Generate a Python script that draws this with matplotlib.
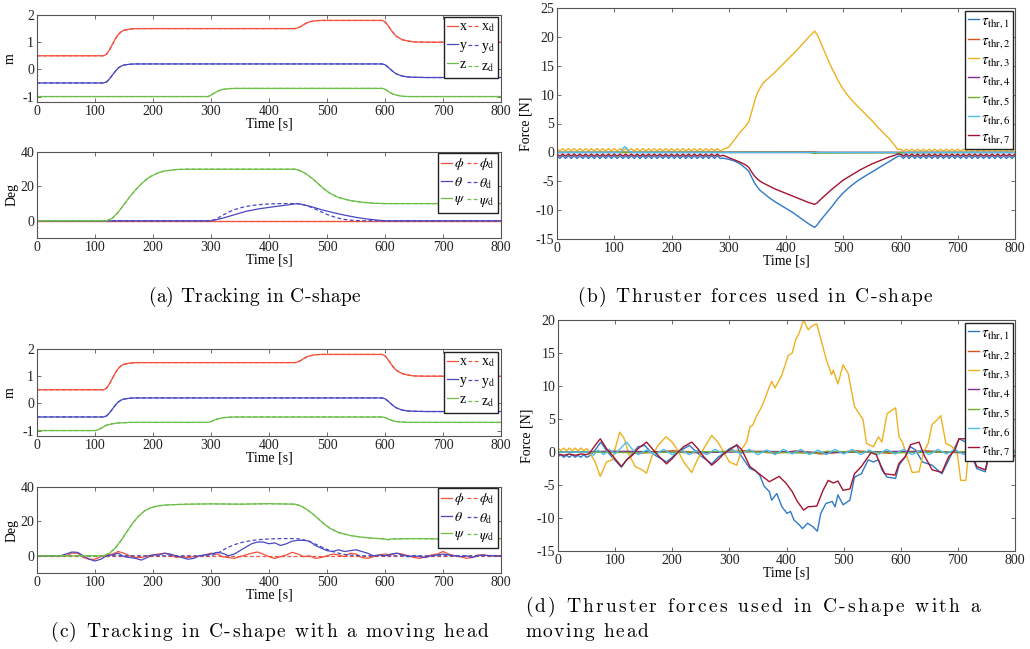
import numpy as np
import matplotlib.pyplot as plt
from matplotlib import font_manager
from matplotlib.ft2font import FT2Font

plt.rcParams['font.family'] = ['Liberation Serif', 'DejaVu Serif']
plt.rcParams['mathtext.fontset'] = 'stix'
plt.rcParams['axes.unicode_minus'] = False

W, H = 1030, 649

# ---------------- (a) tracking in C-shape ----------------
xa_t = [0, 115, 120, 125, 130, 135, 140, 145, 150, 160, 170, 180, 200,
        445, 450, 455, 460, 465, 470, 480, 490,
        595, 600, 605, 610, 615, 620, 630, 640, 650, 670, 800]
xa_v = [0.5, 0.5, 0.56, 0.72, 0.92, 1.12, 1.28, 1.38, 1.44, 1.48, 1.50, 1.50, 1.50,
        1.50, 1.53, 1.58, 1.65, 1.71, 1.75, 1.79, 1.8,
        1.8, 1.75, 1.62, 1.46, 1.32, 1.21, 1.09, 1.04, 1.01, 1.0, 1.0]
ya_t = [0, 115, 120, 125, 130, 135, 140, 145, 150, 160, 170, 180,
        595, 600, 605, 610, 615, 620, 630, 640, 650, 670, 800]
ya_v = [-0.5, -0.5, -0.46, -0.35, -0.21, -0.07, 0.05, 0.12, 0.16, 0.19, 0.2, 0.2,
        0.2, 0.17, 0.09, -0.01, -0.1, -0.17, -0.25, -0.28, -0.29, -0.3, -0.3]
za_t = [0, 295, 300, 305, 310, 315, 320, 330, 340, 595, 600, 605, 610, 615, 620, 630, 640, 800]
za_v = [-1, -1, -0.95, -0.88, -0.82, -0.77, -0.74, -0.71, -0.7, -0.7, -0.73, -0.8, -0.87,
        -0.92, -0.95, -0.99, -1, -1]

phia_t = [0, 800]
phia_v = [0, 0]
psia_t = [0, 120, 130, 140, 150, 160, 170, 180, 190, 200, 210, 220, 240, 260,
          445, 455, 465, 475, 485, 495, 505, 520, 540, 560, 580, 600, 800]
psia_v = [0, 0, 1.5, 5, 9.5, 14, 18, 21.5, 24.5, 26.5, 28, 29, 29.8, 30,
          30, 29, 27, 24.5, 21.5, 18.5, 16, 13.5, 11.8, 10.8, 10.2, 10, 10]
tha_t = [0, 300, 320, 340, 360, 380, 400, 420, 440, 450, 470, 490, 510, 530, 550, 570, 590, 600, 800]
tha_v = [0, 0, 1.5, 3.5, 5.5, 6.8, 7.8, 8.7, 9.6, 10, 8.5, 6.5, 4.8, 3.3, 2, 1, 0.3, 0, 0]
thd_t = [0, 300, 310, 320, 330, 340, 350, 360, 380, 400, 420, 440, 450, 460, 470, 480,
         490, 500, 510, 520, 530, 540, 560, 600, 800]
thd_v = [0, 0, 1.2, 3.2, 5.0, 6.4, 7.5, 8.3, 9.3, 9.8, 10, 10, 9.9, 9.3, 8.2, 6.8,
         5.2, 3.7, 2.5, 1.5, 0.8, 0.4, 0, 0, 0]

# ---------------- (c) tracking with a moving head ----------------
zc_t = [0, 100, 105, 110, 115, 120, 130, 140, 150, 160,
        295, 300, 305, 310, 315, 320, 330, 340, 350, 595,
        600, 605, 610, 615, 620, 630, 640, 650, 800]
zc_v = [-1, -1, -0.98, -0.92, -0.86, -0.8, -0.75, -0.72, -0.71, -0.7,
        -0.7, -0.67, -0.62, -0.58, -0.55, -0.53, -0.51, -0.5, -0.5, -0.5,
        -0.52, -0.57, -0.61, -0.65, -0.67, -0.69, -0.7, -0.7, -0.7]
phic_t = list(range(0, 801, 10))
phic_v = [0, 0, 0, 0, 0, 0, 1.5, 1.5, -1, -2,
          -2, -0.5, 0.5, 1, 2.5, 1.5, 0, -1, -1, 0,
          0.5, 1, 1.5, 0.5, -1, -0.5, -1, -0.5, 0, 0.5,
          1.5, 1, -0.5, -1, -1.5, -0.5, 0.5, 1.5, 2.2, 1,
          -0.5, -1.5, -0.5, 0.5, 2, 1, -0.5, 0, -1.5, -1,
          0, 1, 0.5, -0.5, 1.5, 1, -1, -1.5, -0.5, 0.5,
          1, 0.5, 1.5, 1, 0, -1, -1.5, -0.5, 0.5, 1,
          2.5, 1, 0, -0.5, -1.5, -1, 0.5, 0.5, 0, 0, 0]
thc_t = list(range(0, 801, 10))
thc_v = [0, 0, 0, 0, 0, 1, 2.2, 2, 0, -2,
         -3, -2, 0, 0.5, 1.5, -0.5, -1, -1.5, -2.5, -1,
         0.5, 0.5, 1.5, 1, 0, -1, -2, -1.5, 0, 0.5,
         1, 2, 1.5, 0, 1, 3, 5, 7, 8, 8,
         7, 7.5, 6, 7, 8.5, 9, 9, 8.5, 6, 4.5,
         3, 2.5, 3.5, 2.5, 3, 3.5, 2.5, 1.5, 0, 0.5,
         0, 1, 1.5, 0.5, -0.5, 0, -0.5, -1, 0, 0.5,
         1, 0.5, 0, -0.5, 0, -1, 0, 0.5, 0, 0, 0]
psic_t = [0, 115, 125, 135, 145, 155, 165, 175, 185, 195, 205, 220, 240, 260, 300, 350, 400,
          445, 455, 465, 475, 485, 495, 505, 520, 540, 560, 580, 600, 605, 610, 650, 700, 750, 800]
psic_v = [0, 0, 1.5, 4.5, 9, 14, 19, 23, 26, 27.8, 28.8, 29.5, 29.8, 30, 30.2, 30, 30.3,
          30, 29, 27, 24.5, 21.5, 18.5, 16, 13.5, 11.8, 10.8, 10.2, 9.8, 9.3, 9.8, 10, 9.8, 10, 10]

# ---------------- (b) thruster forces, C-shape ----------------
b_pre = np.arange(0, 290, 5)
b_mid = [290, 300, 310, 320, 330, 335, 340, 345, 350, 355, 360, 370, 380, 390, 400, 410, 420, 430,
         440, 450, 455, 460, 470, 480, 490, 500, 510, 520, 530, 540, 550, 560, 570, 580, 590, 595]
b_post = np.arange(600, 805, 5)
b1_pre = [-0.6, -1.05, -0.6, -1.05, -0.6, -1.05, -0.6, -1.05, -0.6, -1.05,
          -0.6, -1.05, -0.6, -1.05, -0.6, -1.05, -0.6, -1.05, -0.6, -1.05,
          -0.6, -1.05, -0.6, -1.05, -0.6, -1.05, -0.6, -1.05, -0.6, -1.05,
          -0.6, -1.05, -0.6, -1.05, -0.6, -1.05, -0.6, -1.05, -0.6, -1.05,
          -0.6, -1.05, -0.6, -1.05, -0.6, -1.05, -0.6, -1.05, -0.6, -1.05,
          -0.6, -1.05, -0.6, -1.05, -0.6, -1.05, -0.6, -1.05]
b1_mid = [-1.0, -1.2, -1.5, -2.0, -2.8, -3.3, -4.3, -5.3, -6.0, -6.6, -7.0, -7.8, -8.5, -9.1,
          -9.7, -10.3, -11.0, -11.7, -12.4, -13.0, -12.5, -11.8, -10.6, -9.4, -8.1, -7.0,
          -6.1, -5.3, -4.6, -4.0, -3.4, -2.8, -2.2, -1.6, -1.0, -0.7]
b1_post = [-0.6, -1.05, -0.6, -1.05, -0.6, -1.05, -0.6, -1.05, -0.6, -1.05,
           -0.6, -1.05, -0.6, -1.05, -0.6, -1.05, -0.6, -1.05, -0.6, -1.05,
           -0.6, -1.05, -0.6, -1.05, -0.6, -1.05, -0.6, -1.05, -0.6, -1.05,
           -0.6, -1.05, -0.6, -1.05, -0.6, -1.05, -0.6, -1.05, -0.6, -1.05,
           -0.6]
b7_pre = [-0.3, -0.65, -0.3, -0.65, -0.3, -0.65, -0.3, -0.65, -0.3, -0.65,
          -0.3, -0.65, -0.3, -0.65, -0.3, -0.65, -0.3, -0.65, -0.3, -0.65,
          -0.3, -0.65, -0.3, -0.65, -0.3, -0.65, -0.3, -0.65, -0.3, -0.65,
          -0.3, -0.65, -0.3, -0.65, -0.3, -0.65, -0.3, -0.65, -0.3, -0.65,
          -0.3, -0.65, -0.3, -0.65, -0.3, -0.65, -0.3, -0.65, -0.3, -0.65,
          -0.3, -0.65, -0.3, -0.65, -0.3, -0.65, -0.3, -0.65]
b7_mid = [-0.5, -0.9, -1.3, -1.7, -2.2, -2.6, -3.4, -4.1, -4.6, -5.0, -5.3, -5.8, -6.3, -6.7,
          -7.1, -7.5, -7.9, -8.3, -8.7, -9.0, -8.7, -8.2, -7.3, -6.4, -5.6, -4.8,
          -4.2, -3.6, -3.0, -2.5, -2.0, -1.6, -1.2, -0.8, -0.5, -0.3]
b7_post = [-0.3, -0.65, -0.3, -0.65, -0.3, -0.65, -0.3, -0.65, -0.3, -0.65,
           -0.3, -0.65, -0.3, -0.65, -0.3, -0.65, -0.3, -0.65, -0.3, -0.65,
           -0.3, -0.65, -0.3, -0.65, -0.3, -0.65, -0.3, -0.65, -0.3, -0.65,
           -0.3, -0.65, -0.3, -0.65, -0.3, -0.65, -0.3, -0.65, -0.3, -0.65,
           -0.3]
b3_pre = [0.65, 0.25, 0.65, 0.25, 0.65, 0.25, 0.65, 0.25, 0.65, 0.25,
          0.65, 0.25, 0.65, 0.25, 0.65, 0.25, 0.65, 0.25, 0.65, 0.25,
          0.65, 0.25, 0.65, 0.25, 0.65, 0.25, 0.65, 0.25, 0.65, 0.25,
          0.65, 0.25, 0.65, 0.25, 0.65, 0.25, 0.65, 0.25, 0.65, 0.25,
          0.65, 0.25, 0.65, 0.25, 0.65, 0.25, 0.65, 0.25, 0.65, 0.25,
          0.65, 0.25, 0.65, 0.25, 0.65, 0.25, 0.65, 0.25]
b3_mid = [0.5, 0.9, 2.2, 3.5, 4.6, 5.3, 7.0, 8.8, 10.3, 11.2, 12.0, 12.9, 13.8, 14.8,
          15.8, 16.8, 17.8, 18.9, 20.0, 21.0, 20.3, 19.2, 16.8, 14.6, 12.6, 10.9,
          9.6, 8.5, 7.5, 6.5, 5.5, 4.4, 3.4, 2.4, 1.2, 0.5]
b3_post = [0.55, 0.2, 0.55, 0.2, 0.55, 0.2, 0.55, 0.2, 0.55, 0.2,
           0.55, 0.2, 0.55, 0.2, 0.55, 0.2, 0.55, 0.2, 0.55, 0.2,
           0.55, 0.2, 0.55, 0.2, 0.55, 0.2, 0.55, 0.2, 0.55, 0.2,
           0.55, 0.2, 0.55, 0.2, 0.55, 0.2, 0.55, 0.2, 0.55, 0.2,
           0.55]
b2_t = [0, 440, 450, 460, 800]
b2_v = [0, 0.1, 0.1, 0, 0]
b4_t = [0, 800]
b4_v = [0, 0]
b5_t = [0, 440, 450, 460, 800]
b5_v = [0, 0, -0.2, -0.1, 0]
b6_t = [0, 110, 114, 118, 122, 126, 130, 590, 595, 600, 605, 610, 800]
b6_v = [0, 0, 0.5, 1.0, 0.7, 0.2, 0, 0, -0.2, -0.5, -0.2, 0, 0]

# ---------------- (d) thruster forces with a moving head ----------------
d1_t = [0, 5, 10, 15, 20, 25, 30, 35, 40, 45,
        50, 55, 65, 75, 85, 95, 111, 120, 130, 140,
        152, 160, 170, 180, 190, 200, 210, 220, 230, 240,
        250, 260, 269, 280, 290, 300, 313, 320, 328, 336,
        345, 353, 361, 370, 374, 383, 392, 401, 407, 413,
        422, 428, 437, 446, 454, 460, 469, 480, 485, 490,
        499, 511, 519, 531, 543, 552, 561, 567, 576, 591,
        597, 608, 617, 626, 638, 655, 672, 684, 702, 714,
        722, 733, 748, 754, 765, 780, 800]
d1_v = [-0.7, -0.4, -0.8, -0.5, -0.8, -0.4, -0.8, -0.5, -0.8, -0.4,
        -0.8, -0.6, 0.3, 1.5, 0.2, -0.8, -2.3, -1.2, -0.3, 0.8,
        1.0, 0.2, -0.5, -1.0, -1.5, -0.8, 0, 0.5, 1.0, 0.2,
        -0.6, -1.2, -1.8, -0.8, -0.2, 0.5, 1.0, -0.5, -1.5, -2.5,
        -2.8, -3.5, -5.2, -6.0, -7.3, -6.3, -8.3, -9.3, -9.0, -10.3,
        -11.0, -11.6, -10.8, -11.3, -12.0, -9.3, -7.8, -7.5, -8.3, -6.5,
        -8.0, -7.3, -3.8, -3.3, -1.2, -1.5, -1.2, -2.7, -3.8, -4.0,
        -2.0, -0.7, 0.8, 0.3, -1.5, -2.0, -3.3, -1.2, 2.0, 1.5,
        0.0, -2.5, -3.0, -0.7, -0.7, -0.9, -0.7]
d3_t = [0, 5, 10, 15, 20, 25, 30, 35, 40, 45,
        50, 55, 65, 74, 85, 95, 100, 108, 115, 125,
        135, 145, 155, 165, 175, 189, 200, 210, 220, 234,
        245, 255, 269, 280, 290, 300, 313, 322, 330, 336,
        341, 348, 355, 361, 370, 374, 380, 392, 403, 410,
        416, 422, 430, 438, 446, 453, 462, 470, 479, 482,
        490, 499, 508, 519, 534, 540, 552, 561, 567, 576,
        591, 597, 603, 612, 620, 632, 640, 648, 655, 663,
        670, 679, 690, 699, 705, 714, 719, 730, 745, 760,
        780, 800]
d3_v = [0.6, 0.2, 0.6, 0.2, 0.6, 0.2, 0.6, 0.2, 0.6, 0.2,
        0.5, 0, -1.5, -3.7, -1.5, -1.2, 0.5, 3.0, 2.2, -0.5,
        -2.2, -2.6, -3.2, -0.5, 1.0, 2.3, 1.5, 0.2, -1.5, -3.1,
        -1.0, 0.5, 2.5, 1.5, 0, -1.5, -2.0, 0.5, 1.5, 3.8,
        4.1, 5.5, 6.6, 7.8, 9.9, 10.7, 9.7, 11.7, 14.6, 15.0,
        17.0, 18.0, 20.0, 18.5, 19.2, 19.4, 16.5, 13.9, 11.7, 12.4,
        10.3, 13.2, 11.9, 6.9, 4.9, 1.3, 0.8, 2.3, 1.5, 5.8,
        6.7, 2.3, 1.5, -1.0, -3.1, -3.0, 0.0, 1.3, 4.2, 4.8,
        5.5, 1.3, 0.8, -0.2, -4.3, -4.3, 0.4, 0.4, 0.3, 0.3,
        0.3, 0.3]
d7_t = [0, 10, 20, 30, 40, 50, 55, 65, 74, 85,
        95, 111, 120, 130, 140, 155, 165, 175, 190, 200,
        210, 220, 234, 245, 255, 269, 280, 290, 300, 313,
        322, 336, 355, 370, 387, 399, 410, 419, 430, 438,
        453, 464, 473, 482, 490, 499, 511, 519, 531, 548,
        557, 566, 572, 590, 597, 608, 617, 632, 641, 655,
        672, 684, 695, 702, 714, 722, 733, 748, 754, 765,
        780, 800]
d7_v = [-0.3, -0.5, -0.3, -0.5, -0.3, -0.4, -0.2, 1.0, 2.0, 0.5,
        -0.5, -2.2, -1.2, -0.5, 0.5, 1.5, 0.5, -0.5, -1.8, -1.0,
        0.0, 0.8, 1.5, 0.5, -0.7, -2.0, -1.2, -0.3, 0.3, 1.1,
        0.3, -2.2, -3.5, -4.5, -3.7, -4.7, -6.0, -7.5, -8.8, -8.3,
        -8.2, -5.8, -4.3, -4.7, -4.4, -5.8, -5.6, -3.3, -2.2, -0.1,
        -0.4, -2.2, -3.3, -3.5, -1.7, -0.7, 1.1, 1.5, -0.5, -2.7,
        -3.1, -0.7, 0.3, 2.0, 2.0, 0.3, -2.2, -2.7, -0.5, -0.5,
        -0.5, -0.5]
d6_t = [0, 55, 62, 70, 80, 90, 100, 110, 120, 130] + list(range(140, 801, 15))
d6_v = [0, 0, -0.5, 0.3, -0.4, 0.4, -0.3, 0.6, 1.5, 0.4,
        -0.4, 0.3, -0.4, 0.4, -0.4,
        0.3, -0.4, 0.3, -0.4, 0.4,
        -0.3, 0.4, -0.3, 0.4, -0.4,
        0.3, -0.4, 0.4, -0.3, 0.4,
        -0.4, 0.3, -0.4, 0.4, -0.3,
        0.4, -0.4, 0.3, -0.4, 0.4,
        -0.3, 0.4, -0.4, 0.3, -0.4,
        0.4, -0.3, 0.4, -0.4, 0.3,
        -0.4, 0.4, -0.3, 0.2, 0]
d2_t = [0, 100, 140, 200, 260, 330, 380, 420, 460, 520, 580, 640, 700, 760, 800]
d2_v = [0, 0.1, -0.2, 0.2, -0.1, 0.2, -0.2, 0.2, -0.3, 0.2, -0.2, 0.2, -0.1, 0.1, 0]
d4_t = [0, 120, 240, 360, 480, 600, 720, 800]
d4_v = [0, 0.1, -0.1, 0.1, -0.1, 0.1, -0.1, 0]
d5_t = [0, 150, 300, 450, 470, 600, 750, 800]
d5_v = [0, -0.1, 0.1, -0.2, 0.1, -0.1, 0.1, 0]

red, blue, green = '#f4503c', '#4848c2', '#6cbf48'
mat = ['#2f78c8', '#d95319', '#edb120', '#7e2f8e', '#77ac30', '#4dbeee', '#a2142f']

fig = plt.figure(figsize=(W / 100, H / 100), dpi=100)


def axes_px(l, t, r, b):
    return fig.add_axes([l / W, 1 - b / H, (r - l) / W, (b - t) / H])


def matlab_style(ax):
    for s in ax.spines.values():
        s.set_color('#555555')
        s.set_linewidth(0.8)
    ax.tick_params(direction='in', top=True, right=True, length=3, width=0.6,
                   labelsize=10, color='#555555', labelcolor='#222222', pad=2)
    ax.set_xlim(0, 800)
    ax.set_xticks(range(0, 801, 100))
    ax.set_xlabel('Time [s]', fontsize=10, labelpad=0)


def legend_px(ax, handles, labels, x, y, **kw):
    leg = ax.legend(handles, labels, loc='upper right', bbox_to_anchor=(x / W, 1 - y / H),
                    bbox_transform=fig.transFigure, borderaxespad=0, fancybox=False,
                    framealpha=1, edgecolor='#222222', **kw)
    leg.get_frame().set_linewidth(1.0)


def pos_panel(ax, x_t, x_v, y_t, y_v, z_t, z_v, top):
    h = []
    for t, v, c in [(x_t, x_v, red), (y_t, y_v, blue), (z_t, z_v, green)]:
        h.append(ax.plot(t, v, color=c, lw=0.9)[0])
    hd = []
    for t, v, c in [(x_t, x_v, red), (y_t, y_v, blue), (z_t, z_v, green)]:
        hd.append(ax.plot(t, v, color=c, lw=0.9, ls=(0, (3, 2)))[0])
    ax.set_ylim(-1.2, 2)
    ax.set_yticks([-1, 0, 1, 2])
    ax.set_ylabel('m', fontsize=10, labelpad=4)
    matlab_style(ax)
    legend_px(ax, h + hd, ['x', 'y', 'z', r'x$_{\rm d}$', r'y$_{\rm d}$', r'z$_{\rm d}$'],
              498, top, ncol=2, fontsize=10, handlelength=0.8, handletextpad=0.1,
              columnspacing=0.1, labelspacing=0.4, borderpad=0.25)


def att_panel(ax, series, top):
    h, hd = [], []
    for (t, v, td, vd), c in zip(series, [red, blue, green]):
        h.append(ax.plot(t, v, color=c, lw=0.9)[0])
        hd.append(ax.plot(td, vd, color=c, lw=0.9, ls=(0, (3, 2)))[0])
    ax.set_ylim(-10, 40)
    ax.set_yticks([0, 20, 40])
    ax.set_ylabel('Deg', fontsize=10, labelpad=1)
    matlab_style(ax)
    legend_px(ax, h + hd, [r'$\phi$', r'$\theta$', r'$\psi$',
                           r'$\phi_{\rm d}$', r'$\theta_{\rm d}$', r'$\psi_{\rm d}$'],
              498, top, ncol=2, fontsize=10, handlelength=0.8, handletextpad=0.1,
              columnspacing=0.1, labelspacing=0.25, borderpad=0.25)


def thr_panel(ax, series, ylim, yticks, top):
    h = []
    for (t, v), c in zip(series, mat):
        h.append(ax.plot(t, v, color=c, lw=1.0)[0])
    ax.set_ylim(*ylim)
    ax.set_yticks(yticks)
    ax.set_ylabel('Force [N]', fontsize=10, labelpad=2)
    matlab_style(ax)
    legend_px(ax, h, [r'$\tau_{\rm thr,%d}$' % i for i in range(1, 8)], 1013, top,
              fontsize=11, handlelength=0.7, handletextpad=0.1, labelspacing=0.2,
              borderpad=0.2)


# (a)
ax = axes_px(37, 15, 501, 102)
pos_panel(ax, xa_t, xa_v, ya_t, ya_v, za_t, za_v, 17)
ax = axes_px(37, 152, 501, 238)
att_panel(ax, [(phia_t, phia_v, phia_t, phia_v), (tha_t, tha_v, thd_t, thd_v),
               (psia_t, psia_v, psia_t, psia_v)], 153)

# (c)
ax = axes_px(37, 349, 501, 436)
pos_panel(ax, xa_t, xa_v, ya_t, ya_v, zc_t, zc_v, 352)
ax = axes_px(37, 487, 501, 573)
att_panel(ax, [(phic_t, phic_v, phia_t, phia_v), (thc_t, thc_v, thd_t, thd_v),
               (psic_t, psic_v, psic_t, psic_v)], 488)

# (b)
b_t = np.concatenate([b_pre, b_mid, b_post])
ax = axes_px(557, 8, 1015, 239)
thr_panel(ax, [(b_t, b1_pre + b1_mid + b1_post), (b2_t, b2_v),
               (b_t, b3_pre + b3_mid + b3_post), (b4_t, b4_v), (b5_t, b5_v),
               (b6_t, b6_v), (b_t, b7_pre + b7_mid + b7_post)],
          (-15, 25), range(-15, 26, 5), 11)

# (d)
ax = axes_px(558, 320, 1015, 551)
thr_panel(ax, [(d1_t, d1_v), (d2_t, d2_v), (d3_t, d3_v), (d4_t, d4_v), (d5_t, d5_v),
               (d6_t, d6_v), (d7_t, d7_v)],
          (-15, 20), range(-15, 21, 5), 323)

# captions: letter-spaced LaTeX style, each line stretched between its two ends
cap_size = 14
em = cap_size * 100 / 72
cm_font = FT2Font(font_manager.findfont(font_manager.FontProperties(family='cmr10')))
cm_font.set_size(cap_size, 100)


def adv(ch):
    if ch == ' ':
        return 0.333 * em
    return cm_font.load_char(ord(ch)).linearHoriAdvance / 65536


def spaced_line(x0, x1, y, text):
    track = (x1 - x0 - sum(adv(c) for c in text)) / (len(text) - 1)
    x = x0
    for ch in text:
        if ch != ' ':
            fig.text(x / W, 1 - y / H, ch, family='cmr10', fontsize=cap_size,
                     ha='left', va='center')
        x += adv(ch) + track


spaced_line(148, 360, 297, '(a) Tracking in C-shape')
spaced_line(577, 932, 297, '(b) Thruster forces used in C-shape')
spaced_line(50, 488, 632, '(c) Tracking in C-shape with a moving head')
spaced_line(525, 980, 607, '(d) Thruster forces used in C-shape with a')
spaced_line(525, 648, 632, 'moving head')

fig.savefig('out.png', dpi=100)
